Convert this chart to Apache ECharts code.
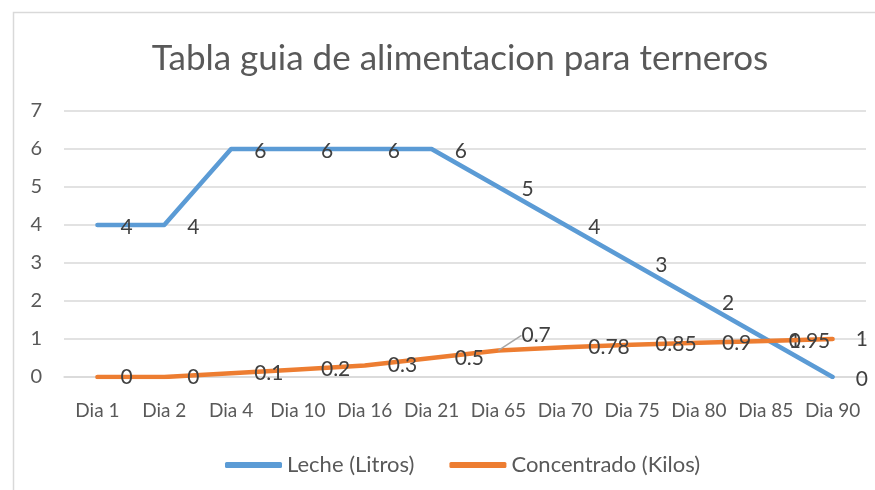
<!DOCTYPE html>
<html>
<head>
<meta charset="utf-8">
<script src="https://cdn.jsdelivr.net/npm/echarts@6/dist/echarts.min.js"></script>
<style>
html,body{margin:0;padding:0;background:#fff;}
#chart{width:875px;height:490px;}
</style>
</head>
<body>
<div id="chart"></div>
<script>
var titleText = 'Tabla guia de alimentacion para terneros';
var categories = ['Dia 1','Dia 2','Dia 4','Dia 10','Dia 16','Dia 21','Dia 65','Dia 70','Dia 75','Dia 80','Dia 85','Dia 90'];
var lecheName = 'Leche (Litros)';
var lecheValues = [4,4,6,6,6,6,5,4,3,2,1,0];
var concName = 'Concentrado (Kilos)';
var concValues = [0,0,0.1,0.2,0.3,0.5,0.7,0.78,0.85,0.9,0.95,1];
var movedLabelIndex = 6;

var FONT = 'Lato';
var chart = echarts.init(document.getElementById('chart'), null, {renderer:'canvas'});
var labelStyle = {show:true, position:'right', distance:23, offset:[0,2], color:'#404040', fontSize:21, fontFamily:FONT};
var concData = concValues.map(function(v, i){
  if (i === movedLabelIndex) {
    return {value:v, labelLine:{show:true, lineStyle:{color:'#a6a6a6', width:1.5}}};
  }
  return v;
});
chart.setOption({
  animation:false,
  backgroundColor:'#fff',
  graphic:[{type:'rect', shape:{x:13.5,y:12.5,width:900,height:500}, style:{fill:null, stroke:'#d9d9d9', lineWidth:1.5}, silent:true, z:-1}],
  title:{text:titleText, left:455, top:36, textAlign:'center', textStyle:{fontFamily:FONT, fontSize:35, fontWeight:'normal', color:'#595959'}},
  legend:{left:220, top:449, itemWidth:57, itemHeight:6, itemGap:35, icon:'roundRect',
    textStyle:{fontFamily:FONT, fontSize:22, color:'#595959'}, data:[lecheName, concName]},
  grid:{left:64, right:9, top:111, bottom:113, containLabel:false},
  xAxis:{type:'category', data:categories, boundaryGap:true,
    axisLine:{show:true, lineStyle:{color:'#d9d9d9', width:1.5}}, axisTick:{show:false},
    axisLabel:{color:'#595959', fontSize:19, fontFamily:FONT, margin:24, interval:0}},
  yAxis:{type:'value', min:0, max:7, interval:1,
    axisLine:{show:false}, axisTick:{show:false},
    splitLine:{lineStyle:{color:'#d9d9d9', width:1.5}},
    axisLabel:{color:'#595959', fontSize:20, fontFamily:FONT, margin:22}},
  series:[
    {name:lecheName, type:'line', data:lecheValues, symbol:'circle', symbolSize:0.1, showSymbol:true,
      lineStyle:{color:'#5b9bd5', width:4.5, cap:'round', join:'round'}, itemStyle:{color:'#5b9bd5'},
      label:labelStyle, z:3},
    {name:concName, type:'line', data:concData, symbol:'circle', symbolSize:0.1, showSymbol:true,
      lineStyle:{color:'#ed7d31', width:4.5, cap:'round', join:'round'}, itemStyle:{color:'#ed7d31'},
      label:labelStyle,
      labelLine:{show:false},
      labelLayout:function(p){ if(p.dataIndex===movedLabelIndex){ return {dy:-15}; } return {}; },
      z:4}
  ]
});
</script>
</body>
</html>
